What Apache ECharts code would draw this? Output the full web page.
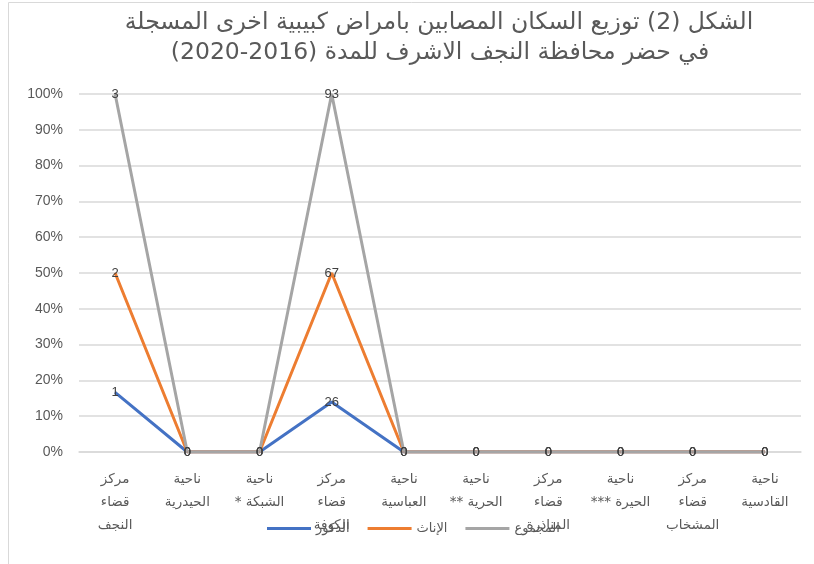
<!DOCTYPE html>
<html lang="ar">
<head>
<meta charset="utf-8">
<script src="https://cdn.jsdelivr.net/npm/echarts@6/dist/echarts.min.js"></script>
<style>
  html, body { margin: 0; padding: 0; background: #fff; }
  #chart { width: 814px; height: 564px; }
</style>
</head>
<body>
<div id="chart" dir="rtl"></div>
<script>
// المناطق
var categories = [
  'مركز\nقضاء\nالنجف',
  'ناحية\nالحيدرية',
  'ناحية\nالشبكة *',
  'مركز\nقضاء\nالكوفة',
  'ناحية\nالعباسية',
  'ناحية\nالحرية **',
  'مركز\nقضاء\nالمناذرة',
  'ناحية\nالحيرة ***',
  'مركز\nقضاء\nالمشخاب',
  'ناحية\nالقادسية'
];
var seriesNames = ['الذكور', 'الإناث', 'المجموع'];
var males   = [1, 0, 0, 26, 0, 0, 0, 0, 0, 0];
var females = [2, 0, 0, 67, 0, 0, 0, 0, 0, 0];
var totals  = [3, 0, 0, 93, 0, 0, 0, 0, 0, 0];
var yTicks = [0, 10, 20, 30, 40, 50, 60, 70, 80, 90, 100];

var titleLines = [
  'الشكل (2) توزيع السكان المصابين بامراض كبيبية اخرى المسجلة',
  'في حضر محافظة النجف الاشرف للمدة (2016\u200F-2020)'
];

var colors = ['#4472C4', '#ED7D31', '#A5A5A5'];
var raw = [males, females, totals];

// share of each value in the category sum (100% stacked, like the excel chart)
function share(arr) {
  return arr.map(function (v, i) {
    var sum = males[i] + females[i] + totals[i];
    return sum ? v / sum * 100 : 0;
  });
}

var chart = echarts.init(document.getElementById('chart'));

var series = raw.map(function (arr, k) {
  return {
    name: seriesNames[k],
    type: 'line',
    stack: 'all',
    data: share(arr),
    symbol: 'circle',
    symbolSize: 1,
    showSymbol: true,
    lineStyle: { width: 3, color: colors[k] },
    itemStyle: { color: colors[k] },
    label: {
      show: true,
      position: 'inside',
      color: '#404040',
      fontSize: 13,
      fontFamily: 'Liberation Sans',
      formatter: function (p) { return raw[k][p.dataIndex]; }
    },
    emphasis: { disabled: true }
  };
});

chart.setOption({
  animation: false,
  color: colors,
  graphic: [
    {
      type: 'rect',
      shape: { x: 8.5, y: 2.5, width: 820, height: 600 },
      style: { fill: null, stroke: '#d9d9d9', lineWidth: 1 }
    },
    {
      type: 'text', x: 439, y: 23,
      style: {
        text: titleLines[0], textAlign: 'center', textVerticalAlign: 'middle',
        fill: '#595959', fontSize: 23.5, fontFamily: 'DejaVu Sans'
      }
    },
    {
      type: 'text', x: 440, y: 53,
      style: {
        text: titleLines[1], textAlign: 'center', textVerticalAlign: 'middle',
        fill: '#595959', fontSize: 23.5, fontFamily: 'DejaVu Sans'
      }
    }
  ],
  legend: {
    data: seriesNames,
    bottom: 24,
    left: 262,
    icon: 'rect',
    itemWidth: 44,
    itemHeight: 3,
    itemGap: 18,
    textStyle: { color: '#595959', fontSize: 13, fontFamily: 'DejaVu Sans' },
    selectedMode: false
  },
  grid: { left: 79, right: 13, top: 94, bottom: 112 },
  xAxis: {
    type: 'category',
    data: categories,
    axisLine: { lineStyle: { color: '#d9d9d9', width: 1.5 } },
    axisTick: { show: false },
    axisLabel: {
      color: '#595959',
      fontSize: 13.5,
      fontFamily: 'DejaVu Sans',
      lineHeight: 23,
      margin: 16,
      interval: 0
    }
  },
  yAxis: {
    type: 'value',
    min: yTicks[0],
    max: yTicks[yTicks.length - 1],
    interval: 10,
    axisLine: { show: false },
    axisTick: { show: false },
    splitLine: { lineStyle: { color: '#d9d9d9', width: 1.5 } },
    axisLabel: {
      color: '#595959',
      fontSize: 14,
      fontFamily: 'Liberation Sans',
      margin: 16,
      formatter: '{value}%'
    }
  },
  series: series
});
</script>
</body>
</html>
